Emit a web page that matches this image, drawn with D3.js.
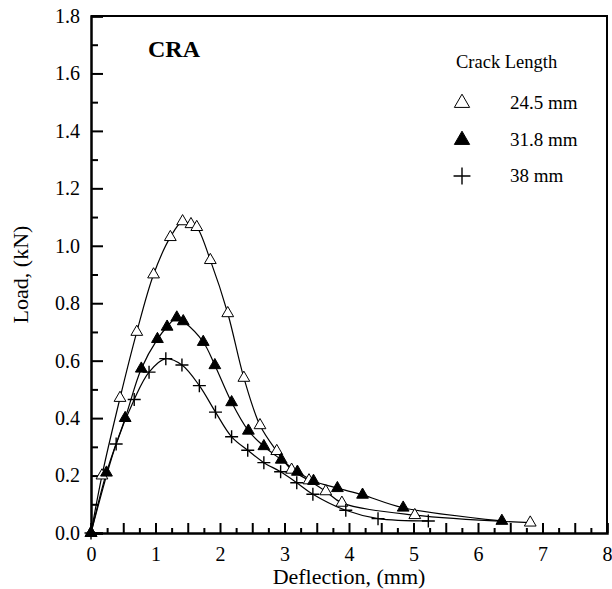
<!DOCTYPE html>
<html>
<head>
<meta charset="utf-8">
<script src="https://cdn.jsdelivr.net/npm/d3@7"></script>
<style>
  body { margin: 0; background: #fff; }
  svg text { font-family: "Liberation Serif", "Times New Roman", serif; fill: #000; }
</style>
</head>
<body>
<div id="container"></div>
<script>
/* CONSTANTS AND GLOBALS */
const width = 612,
  height = 589,
  margin = { top: 16, bottom: 56, left: 91, right: 5 };

/* DATA */
// crack length 24.5 mm (open triangles)
const crack245 = [
  [0, 0], [0.17, 0.2], [0.45, 0.47], [0.71, 0.7], [0.97, 0.9], [1.23, 1.03],
  [1.42, 1.085], [1.55, 1.075], [1.64, 1.065], [1.85, 0.95], [2.12, 0.765],
  [2.37, 0.54], [2.62, 0.375], [2.88, 0.285], [3.11, 0.22], [3.38, 0.183],
  [3.64, 0.145], [3.89, 0.105], [5.02, 0.062], [6.81, 0.036]
];
// crack length 31.8 mm (filled triangles)
const crack318 = [
  [0, 0], [0.24, 0.21], [0.53, 0.4], [0.78, 0.572], [1.03, 0.675], [1.18, 0.718],
  [1.33, 0.75], [1.43, 0.737], [1.74, 0.665], [1.92, 0.584], [2.18, 0.455],
  [2.44, 0.356], [2.68, 0.302], [2.95, 0.255], [3.2, 0.213], [3.45, 0.181],
  [3.82, 0.156], [4.21, 0.133], [4.84, 0.088], [6.37, 0.042]
];
// crack length 38 mm (crosses)
const crack38 = [
  [0, 0], [0.39, 0.31], [0.67, 0.465], [0.9, 0.56], [1.16, 0.607], [1.41, 0.585],
  [1.68, 0.513], [1.93, 0.421], [2.18, 0.335], [2.43, 0.288], [2.68, 0.245],
  [2.94, 0.213], [3.19, 0.175], [3.44, 0.135], [3.95, 0.079], [4.45, 0.05],
  [5.23, 0.042]
];

const seriesNames = ["24.5 mm", "31.8 mm", "38 mm"];
const xTickLabels = [0, 1, 2, 3, 4, 5, 6, 7, 8];
const yTickLabels = [0, 0.2, 0.4, 0.6, 0.8, 1.0, 1.2, 1.4, 1.6, 1.8];

const series = [
  { name: seriesNames[0], values: crack245, marker: "openTri" },
  { name: seriesNames[1], values: crack318, marker: "fillTri" },
  { name: seriesNames[2], values: crack38, marker: "cross" }
];

/* SCALES */
const xScale = d3.scaleLinear()
  .domain([0, 8])
  .range([margin.left, width - margin.right]);

const yScale = d3.scaleLinear()
  .domain([0, 1.8])
  .range([height - margin.bottom, margin.top]);

const svg = d3.select("#container")
  .append("svg")
  .attr("width", width)
  .attr("height", height);

const x0 = xScale(0), x1 = xScale(8), y0 = yScale(0), y1 = yScale(1.8);

// frame (top + right)
svg.append("path")
  .attr("d", `M${x0},${y1}H${x1}V${y0}`)
  .attr("fill", "none")
  .attr("stroke", "#000")
  .attr("stroke-width", 2);

/* AXES */
// y minor ticks
svg.append("g")
  .attr("transform", `translate(${x0},0)`)
  .call(d3.axisLeft(yScale).tickValues(d3.range(1, 18, 2).map(d => d / 10)).tickSize(-7).tickFormat(""))
  .call(g => g.select(".domain").remove())
  .call(g => g.selectAll("line").attr("stroke-width", 2));

// y major ticks + labels
svg.append("g")
  .attr("transform", `translate(${x0},0)`)
  .call(d3.axisLeft(yScale).tickValues(yTickLabels).tickSize(-12).tickPadding(11).tickFormat(d3.format(".1f")))
  .call(g => g.select(".domain").attr("stroke-width", 2.5))
  .call(g => g.selectAll("line").attr("stroke-width", 2))
  .call(g => g.selectAll("text").attr("font-size", 20).attr("font-family", "Liberation Serif"));

// x minor ticks (quarters)
svg.append("g")
  .attr("transform", `translate(0,${y0})`)
  .call(d3.axisBottom(xScale).tickValues(d3.range(1, 32, 2).map(d => d / 4)).tickSize(-5).tickFormat(""))
  .call(g => g.select(".domain").remove())
  .call(g => g.selectAll("line").attr("stroke-width", 2));

// x halves
svg.append("g")
  .attr("transform", `translate(0,${y0})`)
  .call(d3.axisBottom(xScale).tickValues(d3.range(1, 16, 2).map(d => d / 2)).tickSize(-10).tickFormat(""))
  .call(g => g.select(".domain").remove())
  .call(g => g.selectAll("line").attr("stroke-width", 2));

// x integers + labels
svg.append("g")
  .attr("transform", `translate(0,${y0})`)
  .call(d3.axisBottom(xScale).tickValues(xTickLabels).tickSize(-10).tickPadding(14).tickFormat(d3.format("d")))
  .call(g => g.select(".domain").attr("stroke-width", 2.5))
  .call(g => g.selectAll("line").attr("stroke-width", 2))
  .call(g => g.selectAll("text").attr("font-size", 20).attr("font-family", "Liberation Serif"));

// axis titles
svg.append("text")
  .attr("x", (x0 + x1) / 2)
  .attr("y", 584)
  .attr("text-anchor", "middle")
  .attr("font-size", 22)
  .text("Deflection, (mm)");

svg.append("text")
  .attr("transform", `translate(28,${(y0 + y1) / 2}) rotate(-90)`)
  .attr("text-anchor", "middle")
  .attr("font-size", 22)
  .text("Load, (kN)");

/* LINES */
const line = d3.line()
  .x(d => xScale(d[0]))
  .y(d => yScale(d[1]))
  .curve(d3.curveCatmullRom.alpha(0.5));

svg.selectAll(".series-line")
  .data(series)
  .join("path")
  .attr("class", "series-line")
  .attr("d", d => line(d.values))
  .attr("fill", "none")
  .attr("stroke", "#000")
  .attr("stroke-width", 1.2);

/* MARKERS */
function drawMarker(sel, type, scale) {
  if (type === "cross") {
    const r = 6.5 * scale;
    sel.append("path")
      .attr("d", `M${-r},0H${r}M0,${-r}V${r}`)
      .attr("stroke", "#000")
      .attr("stroke-width", 1.4)
      .attr("fill", "none");
  } else {
    sel.append("path")
      .attr("d", d3.symbol(d3.symbolTriangle, 60 * scale * scale)())
      .attr("fill", type === "fillTri" ? "#000" : "#fff")
      .attr("stroke", "#000")
      .attr("stroke-width", 1);
  }
}

series.forEach(s => {
  svg.append("g")
    .selectAll("g")
    .data(s.values)
    .join("g")
    .attr("transform", d => `translate(${xScale(d[0])},${yScale(d[1])})`)
    .each(function () { drawMarker(d3.select(this), s.marker, 1); });
});

/* LABELS & LEGEND */
svg.append("text")
  .attr("x", 148)
  .attr("y", 57)
  .attr("font-size", 24)
  .attr("font-weight", "bold")
  .text("CRA");

svg.append("text")
  .attr("x", 456)
  .attr("y", 68)
  .attr("font-size", 18.5)
  .text("Crack Length");

const legendRows = [103, 140, 176];
series.forEach((s, i) => {
  const g = svg.append("g").attr("transform", `translate(462,${legendRows[i]})`);
  drawMarker(g, s.marker, 1.3);
  svg.append("text")
    .attr("x", 510)
    .attr("y", legendRows[i] + 6)
    .attr("font-size", 19)
    .text(s.name);
});
</script>
</body>
</html>
